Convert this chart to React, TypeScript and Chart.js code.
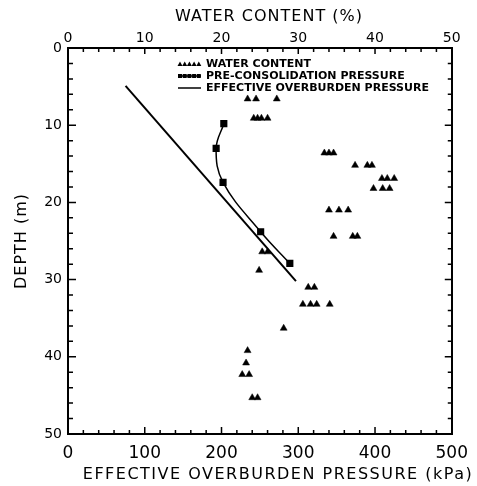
import React, { useEffect, useRef } from 'react';
import { Chart, registerables } from 'chart.js';

Chart.register(...registerables);

// ---- data ----
const waterContentPct = [
  23.4, 24.5, 27.2,
  24.2, 24.7, 25.2, 26.0,
  33.4, 34.0, 34.6,
  37.4, 39.0, 39.6,
  40.9, 41.6, 42.5,
  39.8, 41.0, 41.9,
  34.0, 35.3, 36.5,
  34.6, 37.1, 37.7,
  25.3, 26.0,
  24.9,
  31.3, 32.1,
  30.6, 31.6, 32.4, 34.1,
  28.1,
  23.4,
  23.2,
  22.7, 23.6,
  24.0, 24.7,
];
const waterContentDepth = [
  6.6, 6.6, 6.6,
  9.1, 9.1, 9.1, 9.1,
  13.6, 13.6, 13.6,
  15.2, 15.2, 15.2,
  16.9, 16.9, 16.9,
  18.2, 18.2, 18.2,
  21.0, 21.0, 21.0,
  24.4, 24.4, 24.4,
  26.4, 26.4,
  28.8,
  31.0, 31.0,
  33.2, 33.2, 33.2, 33.2,
  36.3,
  39.2,
  40.8,
  42.3, 42.3,
  45.3, 45.3,
];
const preconsolidationKPa = [203, 193, 202, 251, 289];
const preconsolidationDepth = [9.8, 13.0, 17.4, 23.8, 27.9];
const overburdenKPa = [75, 297];
const overburdenDepth = [4.9, 30.2];

const pressureTicks = [0, 100, 200, 300, 400, 500];
const waterTicks = [0, 10, 20, 30, 40, 50];
const depthTicks = [0, 10, 20, 30, 40, 50];

const seriesLabels = [
  'WATER CONTENT',
  'PRE-CONSOLIDATION PRESSURE',
  'EFFECTIVE OVERBURDEN PRESSURE',
];
const topTitle = 'WATER CONTENT (%)';
const bottomTitle = 'EFFECTIVE OVERBURDEN PRESSURE (kPa)';
const leftTitle = 'DEPTH (m)';

const FONT = '"DejaVu Sans", sans-serif';

const decorPlugin = {
  id: 'decor',
  afterDraw(chart: any) {
    const ctx = chart.ctx;
    const ca = chart.chartArea;
    const sx = chart.scales.x;
    const sx2 = chart.scales.x2;
    const sy = chart.scales.y;
    ctx.save();
    ctx.strokeStyle = '#000';
    ctx.fillStyle = '#000';
    ctx.lineWidth = 1.5;
    // inward ticks
    ctx.beginPath();
    for (let v = 0; v <= 500; v += 20) {
      const p = sx.getPixelForValue(v);
      const len = v % 100 === 0 ? 7 : 4;
      ctx.moveTo(p, ca.bottom);
      ctx.lineTo(p, ca.bottom - len);
    }
    for (let v = 0; v <= 50; v += 2) {
      const p = sx2.getPixelForValue(v);
      const len = v % 10 === 0 ? 6 : 4;
      ctx.moveTo(p, ca.top);
      ctx.lineTo(p, ca.top + len);
    }
    for (let v = 0; v <= 50; v += 2) {
      const p = sy.getPixelForValue(v);
      const lenL = v % 10 === 0 ? 8 : 5;
      const lenR = v % 10 === 0 ? 7 : 4;
      ctx.moveTo(ca.left, p);
      ctx.lineTo(ca.left + lenL, p);
      ctx.moveTo(ca.right, p);
      ctx.lineTo(ca.right - lenR, p);
    }
    ctx.stroke();

    // axis titles
    ctx.font = `16px ${FONT}`;
    ctx.textAlign = 'center';
    ctx.textBaseline = 'middle';
    (ctx as any).letterSpacing = '1px';
    ctx.fillText(topTitle, 269, 17);
    (ctx as any).letterSpacing = '1.5px';
    ctx.fillText(bottomTitle, 278, 475);
    (ctx as any).letterSpacing = '1px';
    ctx.save();
    ctx.translate(22, (ca.top + ca.bottom) / 2);
    ctx.rotate(-Math.PI / 2);
    ctx.fillText(leftTitle, 0, 0);
    ctx.restore();
    (ctx as any).letterSpacing = '0px';

    // legend
    const lx = 178;
    const lw = 23;
    ctx.font = `bold 11px ${FONT}`;
    ctx.textAlign = 'left';
    chart.data.datasets.forEach((ds: any, i: number) => {
      const y = 64 + 12 * i;
      if (i === 0) {
        for (let k = 0; k < 5; k++) {
          const cx = lx + 2 + k * 4.7;
          ctx.beginPath();
          ctx.moveTo(cx, y - 2.5);
          ctx.lineTo(cx + 2.5, y + 2);
          ctx.lineTo(cx - 2.5, y + 2);
          ctx.closePath();
          ctx.fill();
        }
      } else {
        ctx.lineWidth = 1.5;
        ctx.beginPath();
        ctx.moveTo(lx, y);
        ctx.lineTo(lx + lw, y);
        ctx.stroke();
        if (i === 1) {
          for (let k = 0; k < 5; k++) {
            const cx = lx + 2 + k * 4.7;
            ctx.fillRect(cx - 2, y - 2, 4, 4);
          }
        }
      }
      ctx.fillText(ds.label, lx + 28, y + 0.5);
    });
    ctx.restore();
  },
};

export default function App() {
  const ref = useRef<HTMLCanvasElement | null>(null);
  useEffect(() => {
    document.body.style.margin = '0';
    Chart.defaults.font.family = FONT;
    Chart.defaults.color = '#000';
    const canvas = ref.current!;
    const axisCommon = {
      grid: { drawOnChartArea: false, drawTicks: false },
      border: { display: true, color: '#000', width: 2 },
    };
    const chart = new Chart(canvas, {
      type: 'scatter',
      data: {
        datasets: [
          {
            label: seriesLabels[0],
            xAxisID: 'x2',
            yAxisID: 'y',
            data: waterContentPct.map((w, i) => ({ x: w, y: waterContentDepth[i] })),
            pointStyle: 'triangle',
            pointRadius: 4,
            backgroundColor: '#000',
            borderColor: '#000',
            borderWidth: 0.5,
            showLine: false,
          },
          {
            label: seriesLabels[1],
            xAxisID: 'x',
            yAxisID: 'y',
            data: preconsolidationKPa.map((p, i) => ({ x: p, y: preconsolidationDepth[i] })),
            pointStyle: 'rect',
            pointRadius: 4,
            backgroundColor: '#000',
            borderColor: '#000',
            borderWidth: 1.5,
            showLine: true,
            tension: 0.4,
          },
          {
            label: seriesLabels[2],
            xAxisID: 'x',
            yAxisID: 'y',
            data: overburdenKPa.map((p, i) => ({ x: p, y: overburdenDepth[i] })),
            pointRadius: 0,
            borderColor: '#000',
            backgroundColor: '#000',
            borderWidth: 2,
            showLine: true,
          },
        ],
      },
      options: {
        animation: false,
        responsive: false,
        maintainAspectRatio: false,
        layout: { padding: 0 },
        plugins: { legend: { display: false }, tooltip: { enabled: false } },
        scales: {
          x: {
            type: 'linear',
            position: 'bottom',
            min: 0,
            max: 500,
            afterBuildTicks: (s: any) => { s.ticks = pressureTicks.map((v) => ({ value: v })); },
            ticks: { font: { size: 17 }, padding: 9, color: '#000', maxRotation: 0 },
            afterFit: (s: any) => { s.height = 52; },
            ...axisCommon,
          },
          x2: {
            type: 'linear',
            position: 'top',
            min: 0,
            max: 50,
            afterBuildTicks: (s: any) => { s.ticks = waterTicks.map((v) => ({ value: v })); },
            ticks: { font: { size: 14 }, padding: 1, color: '#000', maxRotation: 0 },
            afterFit: (s: any) => { s.height = 48; },
            ...axisCommon,
          },
          y: {
            type: 'linear',
            position: 'left',
            reverse: true,
            min: 0,
            max: 50,
            afterBuildTicks: (s: any) => { s.ticks = depthTicks.map((v) => ({ value: v })); },
            ticks: { font: { size: 14 }, padding: 6, color: '#000' },
            afterFit: (s: any) => { s.width = 68; },
            ...axisCommon,
          },
          y2: {
            type: 'linear',
            position: 'right',
            reverse: true,
            min: 0,
            max: 50,
            ticks: { display: false },
            afterFit: (s: any) => { s.width = 15; },
            ...axisCommon,
          },
        },
      },
      plugins: [decorPlugin],
    } as any);
    return () => chart.destroy();
  }, []);
  return <canvas ref={ref} width={477} height={486} style={{ display: 'block' }} />;
}
